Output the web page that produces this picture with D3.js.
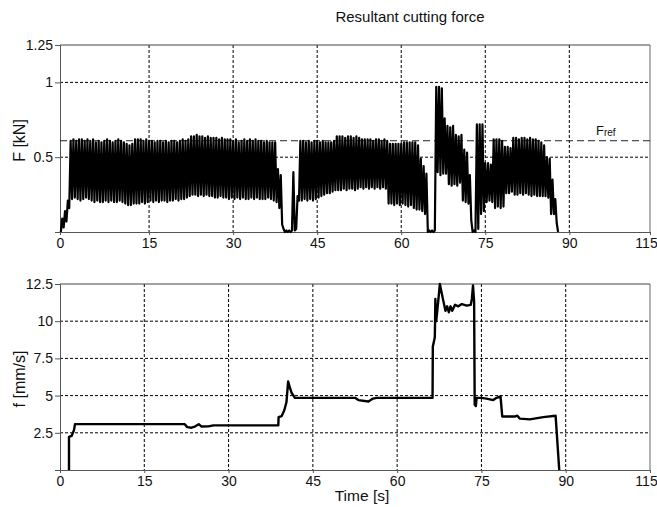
<!DOCTYPE html>
<head>
<meta charset="utf-8">
<script src="https://d3js.org/d3.v7.min.js"></script>
<style>
  body { margin: 0; background: #fff; }
  text { font-family: Arial, "Liberation Sans", sans-serif; fill: #111; }
</style>
</head>
<body>
<div id="chart"></div>
<script>
// x ticks (last label reads 115 in the original figure)
var xTicks = [0, 15, 30, 45, 60, 75, 90, 105];
var xTickLabels = ["0", "15", "30", "45", "60", "75", "90", "115"];

// force plot
var forceTicks = [0, 0.5, 1, 1.25];
var forceTickLabels = ["", "0.5", "1", "1.25"];
var forceGrid = [0.5, 1];
var fRef = 0.61;
// sampled force [kN], first sample at -0.75 s, one every 0.25 s
var forceStart = -0.75, forceStep = 0.25;
var forceValues = [
  0.00, 0.09, 0.03, 0.14, 0.07, 0.21, 0.16, 0.61,
  0.22, 0.62, 0.23, 0.61, 0.22, 0.62, 0.21, 0.62,
  0.22, 0.61, 0.23, 0.62, 0.22, 0.61, 0.21, 0.62,
  0.20, 0.60, 0.21, 0.61, 0.20, 0.60, 0.20, 0.61,
  0.21, 0.62, 0.20, 0.61, 0.21, 0.60, 0.20, 0.61,
  0.20, 0.62, 0.21, 0.61, 0.20, 0.60, 0.19, 0.59,
  0.18, 0.58, 0.18, 0.59, 0.19, 0.62, 0.19, 0.62,
  0.19, 0.62, 0.20, 0.61, 0.19, 0.62, 0.20, 0.61,
  0.21, 0.61, 0.20, 0.60, 0.21, 0.61, 0.20, 0.61,
  0.21, 0.60, 0.21, 0.61, 0.20, 0.60, 0.21, 0.61,
  0.21, 0.61, 0.22, 0.60, 0.21, 0.61, 0.22, 0.62,
  0.22, 0.61, 0.23, 0.62, 0.24, 0.64, 0.25, 0.64,
  0.25, 0.65, 0.24, 0.64, 0.25, 0.64, 0.24, 0.63,
  0.25, 0.64, 0.24, 0.63, 0.24, 0.63, 0.23, 0.63,
  0.23, 0.62, 0.24, 0.63, 0.23, 0.62, 0.23, 0.62,
  0.22, 0.62, 0.23, 0.61, 0.22, 0.62, 0.23, 0.60,
  0.22, 0.61, 0.23, 0.62, 0.22, 0.61, 0.22, 0.62,
  0.23, 0.61, 0.22, 0.62, 0.23, 0.61, 0.22, 0.61,
  0.22, 0.60, 0.22, 0.61, 0.23, 0.60, 0.22, 0.60,
  0.21, 0.60, 0.20, 0.42, 0.16, 0.38, 0.05, 0.02,
  0.00, 0.01, 0.00, 0.01, 0.00, 0.01, 0.40, 0.01,
  0.02, 0.24, 0.21, 0.61, 0.21, 0.61, 0.22, 0.60,
  0.21, 0.61, 0.22, 0.60, 0.21, 0.61, 0.22, 0.61,
  0.23, 0.60, 0.24, 0.61, 0.25, 0.60, 0.26, 0.60,
  0.26, 0.60, 0.27, 0.61, 0.28, 0.64, 0.28, 0.64,
  0.28, 0.64, 0.29, 0.63, 0.28, 0.64, 0.29, 0.64,
  0.29, 0.63, 0.28, 0.64, 0.29, 0.63, 0.30, 0.62,
  0.29, 0.62, 0.30, 0.62, 0.29, 0.62, 0.30, 0.61,
  0.29, 0.62, 0.30, 0.62, 0.29, 0.61, 0.30, 0.62,
  0.29, 0.61, 0.19, 0.59, 0.19, 0.59, 0.18, 0.59,
  0.19, 0.59, 0.18, 0.59, 0.19, 0.60, 0.18, 0.60,
  0.17, 0.60, 0.18, 0.60, 0.16, 0.60, 0.15, 0.58,
  0.15, 0.49, 0.14, 0.44, 0.12, 0.39, 0.00, 0.01,
  0.00, 0.01, 0.00, 0.01, 0.97, 0.40, 0.97, 0.38,
  0.96, 0.39, 0.76, 0.39, 0.71, 0.32, 0.70, 0.31,
  0.71, 0.32, 0.65, 0.31, 0.64, 0.33, 0.65, 0.21,
  0.55, 0.20, 0.53, 0.19, 0.38, 0.08, 0.00, 0.01,
  0.00, 0.72, 0.02, 0.72, 0.12, 0.72, 0.14, 0.46,
  0.20, 0.46, 0.21, 0.45, 0.20, 0.62, 0.16, 0.62,
  0.17, 0.62, 0.16, 0.61, 0.17, 0.57, 0.26, 0.57,
  0.26, 0.56, 0.27, 0.63, 0.25, 0.63, 0.25, 0.62,
  0.26, 0.63, 0.25, 0.63, 0.26, 0.62, 0.25, 0.63,
  0.24, 0.62, 0.25, 0.62, 0.24, 0.61, 0.24, 0.60,
  0.24, 0.58, 0.24, 0.50, 0.23, 0.49, 0.12, 0.35,
  0.12, 0.22, 0.06, 0.00
];

// feed plot
var feedTicks = [0, 2.5, 5, 7.5, 10, 12.5];
var feedTickLabels = ["", "2.5", "5", "7.5", "10", "12.5"];
var feedGrid = [2.5, 5, 7.5, 10];
var feedTime = [1.6, 1.6, 2.08, 2.49, 2.67, 22.2, 22.65, 23.4, 24.0, 24.7, 25.2, 26.4, 27.3,
  38.85, 38.9, 39.45, 39.9, 40.3, 40.6, 40.9, 41.2, 41.8, 48.0, 52.5, 53.1, 54.9, 55.7, 56.35,
  66.3, 66.35, 66.7, 66.75, 66.8, 66.95, 67.3, 67.6, 68.2, 68.6, 68.9, 69.2, 69.5, 69.8, 70.3,
  70.9, 71.5, 72.4, 73.1, 73.3, 73.5, 73.7, 73.8, 74.0, 74.15, 75.0, 75.9, 77.1, 77.7, 78.4,
  78.7, 81.0, 81.4, 81.85, 83.6, 86.0, 88.2, 88.85];
var feedValues = [0, 2.23, 2.3, 2.68, 3.08, 3.08, 2.88, 2.84, 2.92, 3.08, 2.92, 2.93, 3.0,
  3.0, 3.55, 3.62, 4.0, 4.55, 5.95, 5.55, 5.2, 4.85, 4.85, 4.85, 4.7, 4.6, 4.8, 4.85,
  4.85, 8.3, 8.9, 10.0, 11.5, 10.0, 11.3, 12.5, 11.4, 10.7, 11.0, 10.6, 11.0, 10.7, 11.1,
  11.0, 11.15, 11.05, 11.1, 11.5, 12.4, 11.3, 4.4, 4.3, 4.85, 4.85, 4.8, 4.7, 4.85, 4.95,
  3.6, 3.6, 3.65, 3.45, 3.4, 3.55, 3.65, 0];

var W = 657, H = 507;
var left = 60, right = 650;

var svg = d3.select("#chart").append("svg")
  .attr("width", W).attr("height", H);

svg.append("text")
  .attr("x", 410).attr("y", 22)
  .attr("text-anchor", "middle")
  .style("font-size", "15px")
  .text("Resultant cutting force");

function drawPanel(o) {
  var g = svg.append("g");
  var x = d3.scaleLinear().domain(o.xDomain).range([left, right]);
  var y = d3.scaleLinear().domain(o.yDomain).range([o.bottom, o.top]);
  var dom = o.xDomain;
  var tickPos = xTicks.map(function(d) { return d === 0 ? dom[0] : d === 105 ? dom[1] : d; });

  // grid
  g.selectAll(".vg").data(tickPos.slice(1, -1)).enter().append("line")
    .attr("x1", function(d) { return x(d); }).attr("x2", function(d) { return x(d); })
    .attr("y1", o.top).attr("y2", o.bottom)
    .attr("stroke", "#000").attr("stroke-width", 1).attr("stroke-dasharray", "3,2");
  g.selectAll(".hg").data(o.grid).enter().append("line")
    .attr("x1", left).attr("x2", right)
    .attr("y1", function(d) { return y(d); }).attr("y2", function(d) { return y(d); })
    .attr("stroke", "#000").attr("stroke-width", 1).attr("stroke-dasharray", "3,2");

  // frame top / right
  g.append("line").attr("x1", left).attr("x2", right).attr("y1", o.top).attr("y2", o.top)
    .attr("stroke", "#444");
  g.append("line").attr("x1", right).attr("x2", right).attr("y1", o.top).attr("y2", o.bottom)
    .attr("stroke", "#666");

  // axes
  var xa = g.append("g").attr("transform", "translate(0," + o.bottom + ")")
    .call(d3.axisBottom(x).tickValues(tickPos).tickSize(3).tickPadding(3)
      .tickFormat(function(d, i) { return xTickLabels[i]; }));
  xa.selectAll(".tick").filter(function(d, i) { return i === xTicks.length - 1; })
    .select("text").attr("dx", -4);
  var ya = g.append("g").attr("transform", "translate(" + left + ",0)")
    .call(d3.axisLeft(y).tickValues(o.yTicks).tickSize(5).tickPadding(2)
      .tickFormat(function(d, i) { return o.yLabels[i]; }));
  [xa, ya].forEach(function(a) {
    a.select(".domain").attr("stroke", "#555");
    a.selectAll(".tick line").attr("stroke", "#555");
    a.selectAll("text").style("font-size", "14px").attr("fill", "#111")
      .style("font-family", "Arial, 'Liberation Sans', sans-serif");
  });

  g.append("text")
    .attr("transform", "translate(" + 25 + "," + ((o.top + o.bottom) / 2 + 2) + ") rotate(-90)")
    .attr("text-anchor", "middle")
    .style("font-size", "16px")
    .text(o.yTitle);

  return {g: g, x: x, y: y};
}

// top: force
var p1 = drawPanel({xDomain: [-0.9, 104.4], yDomain: [0, 1.25], top: 45, bottom: 232,
  yTicks: forceTicks, yLabels: forceTickLabels, grid: forceGrid, yTitle: "F [kN]"});

p1.g.append("line")
  .attr("x1", left).attr("x2", right)
  .attr("y1", p1.y(fRef)).attr("y2", p1.y(fRef))
  .attr("stroke", "#222").attr("stroke-width", 1).attr("stroke-dasharray", "7,4");

var fr = p1.g.append("text")
  .attr("x", 596).attr("y", p1.y(fRef) - 6)
  .style("font-size", "13px");
fr.append("tspan").text("F");
fr.append("tspan").attr("dy", 1).style("font-size", "10px").text("ref");

var forceData = forceValues.map(function(v, i) { return {t: forceStart + i * forceStep, v: v}; });
p1.g.append("path")
  .datum(forceData)
  .attr("fill", "none")
  .attr("stroke", "#000")
  .attr("stroke-width", 2.2)
  .attr("stroke-linejoin", "round")
  .attr("d", d3.line()
    .x(function(d) { return p1.x(d.t); })
    .y(function(d) { return p1.y(d.v); }));

// bottom: feed
var p2 = drawPanel({xDomain: [0, 105], yDomain: [0, 12.5], top: 284, bottom: 470,
  yTicks: feedTicks, yLabels: feedTickLabels, grid: feedGrid, yTitle: "f [mm/s]"});

var feedData = feedTime.map(function(t, i) { return {t: t, v: feedValues[i]}; });
p2.g.append("path")
  .datum(feedData)
  .attr("fill", "none")
  .attr("stroke", "#000")
  .attr("stroke-width", 2.4)
  .attr("stroke-linejoin", "round")
  .attr("d", d3.line()
    .x(function(d) { return p2.x(d.t); })
    .y(function(d) { return p2.y(d.v); }));

svg.append("text")
  .attr("x", 362).attr("y", 501)
  .attr("text-anchor", "middle")
  .style("font-size", "15.5px")
  .text("Time [s]");
</script>
</body>
</html>
